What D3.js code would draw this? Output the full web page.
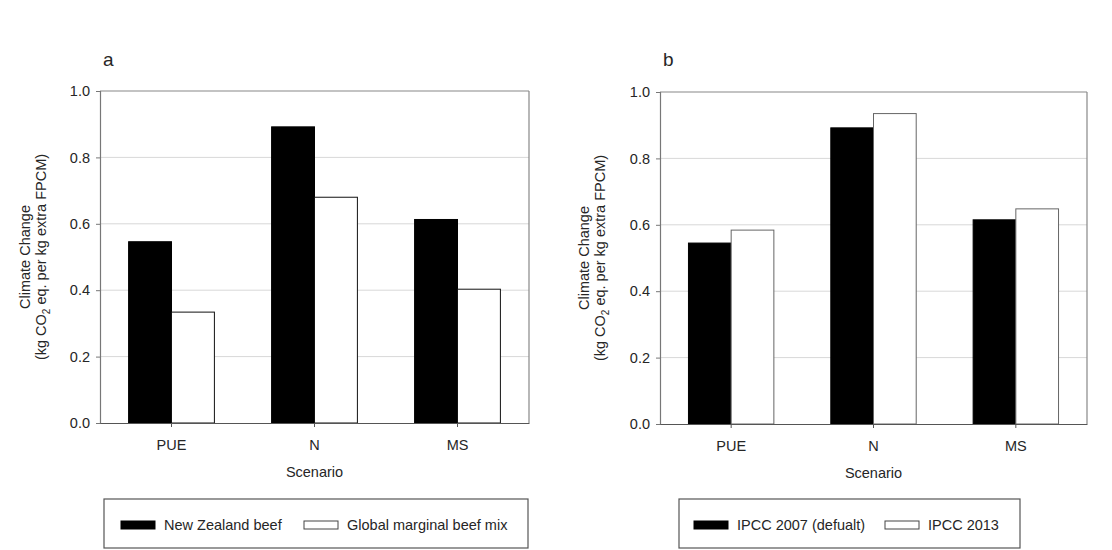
<!DOCTYPE html>
<html>
<head>
<meta charset="utf-8">
<script src="https://cdn.jsdelivr.net/npm/d3@7"></script>
<style>
  html, body { margin: 0; padding: 0; background: #fff; }
  svg { display: block; font-family: "Liberation Sans", Arial, sans-serif; }
</style>
</head>
<body>
<svg id="chart" width="1112" height="550"></svg>
<script>
const categories = ["PUE", "N", "MS"];
const yTicks = [0, 0.2, 0.4, 0.6, 0.8, 1.0];

const seriesA = ["New Zealand beef", "Global marginal beef mix"];
const valuesA_NZ = [0.546, 0.892, 0.613];
const valuesA_Global = [0.334, 0.680, 0.403];

const seriesB = ["IPCC 2007 (defualt)", "IPCC 2013"];
const valuesB_2007 = [0.545, 0.892, 0.615];
const valuesB_2013 = [0.584, 0.935, 0.648];

const svg = d3.select("#chart");
const textColor = "#262626";
const fs = "14.5px";

function panel(cfg) {
  const g = svg.append("g");
  const x = d3.scaleBand().domain(categories).range([cfg.x0, cfg.x1]).paddingInner(0.4).paddingOuter(0.2);
  const xs = d3.scaleBand().domain(cfg.series).range([0, x.bandwidth()]);
  const y = d3.scaleLinear().domain([0, 1]).range([cfg.y0, cfg.y1]);

  // gridlines
  g.selectAll("line.grid").data(yTicks.filter(t => t > 0 && t < 1)).enter().append("line")
    .attr("x1", cfg.x0).attr("x2", cfg.x1)
    .attr("y1", d => y(d)).attr("y2", d => y(d))
    .attr("stroke", "#d8d8d8").attr("stroke-width", 1);

  // frame top & right
  g.append("line").attr("x1", cfg.x0).attr("x2", cfg.x1).attr("y1", y(1)).attr("y2", y(1))
    .attr("stroke", "#888").attr("stroke-width", 1.2);
  g.append("line").attr("x1", cfg.x1).attr("x2", cfg.x1).attr("y1", y(1)).attr("y2", y(0))
    .attr("stroke", "#888").attr("stroke-width", 1.2);

  // bars
  const rows = categories.map((c, i) => ({ c, vals: cfg.values.map(v => v[i]) }));
  const fills = ["#000", "#fff"];
  rows.forEach(r => {
    r.vals.forEach((v, j) => {
      g.append("rect")
        .attr("x", x(r.c) + xs(cfg.series[j]))
        .attr("y", y(v))
        .attr("width", xs.bandwidth())
        .attr("height", y(0) - y(v))
        .attr("fill", fills[j])
        .attr("stroke", j === 0 ? "#000" : cfg.barStroke)
        .attr("stroke-width", 1);
    });
  });

  // y axis
  const ya = g.append("g").attr("transform", `translate(${cfg.x0},0)`)
    .call(d3.axisLeft(y).tickValues(yTicks).tickFormat(d3.format(".1f")).tickSize(4).tickPadding(6));
  ya.select(".domain").attr("stroke", "#777").attr("stroke-width", 1.2);
  ya.selectAll(".tick line").attr("stroke", "#777");
  ya.selectAll("text").attr("fill", textColor).style("font-size", fs);

  // x axis
  const xa = g.append("g").attr("transform", `translate(0,${cfg.y0})`)
    .call(d3.axisBottom(x).tickSize(4).tickPadding(13).tickSizeOuter(0));
  xa.select(".domain").attr("stroke", "#555").attr("stroke-width", 1.2);
  xa.selectAll(".tick line").attr("stroke", "#555");
  xa.selectAll(".tick").attr("transform", d => `translate(${x(d) + x.bandwidth() / 2},0)`);
  xa.selectAll("text").attr("fill", textColor).style("font-size", fs);

  // x label
  g.append("text").attr("x", (cfg.x0 + cfg.x1) / 2).attr("y", cfg.y0 + 54)
    .attr("text-anchor", "middle").attr("fill", textColor).style("font-size", fs).text("Scenario");

  // y label
  const cy = (cfg.y0 + cfg.y1) / 2;
  const yl = g.append("text").attr("transform", `translate(${cfg.labelX},${cy}) rotate(-90)`)
    .attr("text-anchor", "middle").attr("fill", textColor).style("font-size", fs);
  yl.append("tspan").attr("x", 0).attr("dy", 0).text("Climate Change");
  const t2 = yl.append("tspan").attr("x", 0).attr("dy", 16);
  t2.append("tspan").text("(kg CO");
  t2.append("tspan").attr("dy", 4).style("font-size", "10px").text("2");
  t2.append("tspan").attr("dy", -4).text(" eq. per kg extra FPCM)");

  // panel letter
  g.append("text").attr("x", cfg.x0 + 3).attr("y", 66).attr("fill", textColor)
    .style("font-size", "19px").text(cfg.letter);

  // legend
  const lg = g.append("g");
  lg.append("rect").attr("x", cfg.legX0).attr("y", 499).attr("width", cfg.legX1 - cfg.legX0).attr("height", 49)
    .attr("fill", "#fff").attr("stroke", "#555").attr("stroke-width", 1.2);
  cfg.series.forEach((s, j) => {
    lg.append("rect").attr("x", cfg.legItems[j]).attr("y", 521).attr("width", 34).attr("height", 8)
      .attr("fill", fills[j]).attr("stroke", j === 0 ? "#000" : "#444").attr("stroke-width", 1);
    lg.append("text").attr("x", cfg.legItems[j] + 43).attr("y", 530).attr("fill", textColor)
      .style("font-size", fs).text(s);
  });
}

panel({
  x0: 100, x1: 529, y0: 423, y1: 91,
  series: seriesA, values: [valuesA_NZ, valuesA_Global], barStroke: "#111",
  labelX: 30, letter: "a",
  legX0: 104, legX1: 528, legItems: [121, 304]
});

panel({
  x0: 660, x1: 1087, y0: 424, y1: 92,
  series: seriesB, values: [valuesB_2007, valuesB_2013], barStroke: "#666",
  labelX: 589, letter: "b",
  legX0: 679, legX1: 1020, legItems: [694, 885]
});
</script>
</body>
</html>
